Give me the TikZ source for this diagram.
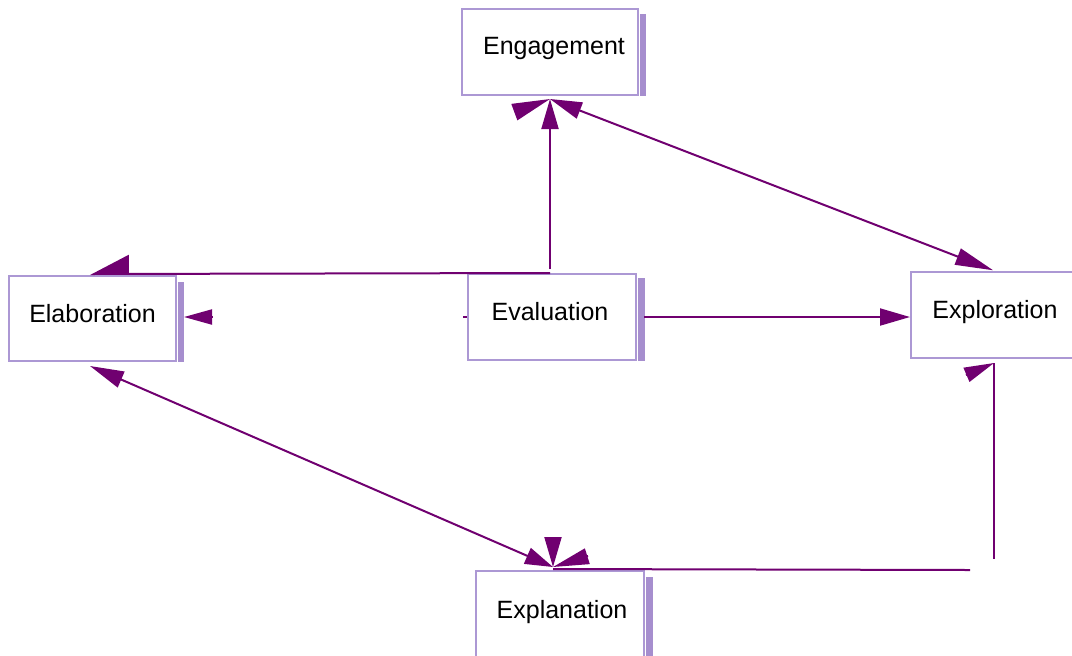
\documentclass[tikz,border=0pt]{standalone}
\usepackage{fontspec}
\setmainfont{Liberation Sans}
\usetikzlibrary{arrows.meta,calc}
\definecolor{arrc}{RGB}{112,0,112}
\definecolor{bordc}{RGB}{172,152,212}
\definecolor{shadc}{RGB}{166,142,206}
\begin{document}
\begin{tikzpicture}[x=0.5pt,y=-0.5pt,
  box/.style={draw=bordc, line width=1pt, fill=white, rectangle, inner sep=0pt},
  shadowbar/.style={fill=shadc, draw=none},
  lbl/.style={font=\fontsize{12.5pt}{15pt}\selectfont, inner sep=0pt, anchor=base, text=black},
  conn/.style={draw=arrc, line width=1pt},
  tipS/.style={-{Triangle[length=15pt,width=8.5pt]}},
  tipL/.style={-{Triangle[length=19pt,width=8.5pt]}},
  tipsBoth/.style={{Triangle[length=16pt,width=8.5pt]}-{Triangle[length=19pt,width=8.5pt]}},
  tipsBoth2/.style={{Triangle[length=17pt,width=8.5pt]}-{Triangle[length=14pt,width=8.5pt]}},
  halftip/.style={-{Triangle[length=18.5pt,width=19pt,right]}}
]
\useasboundingbox (0,0) rectangle (1072,655);
\clip (0,0) rectangle (1072,655);

% boxes
\node[box, minimum width=88pt, minimum height=43pt] (eng) at (550,52) {};
\node[box, minimum width=83.5pt, minimum height=42.5pt] (ela) at (92.5,318.5) {};
\node[box, minimum width=84pt, minimum height=43pt] (eva) at (552,317) {};
\node[box, minimum width=84pt, minimum height=43pt] (exr) at (995,315) {};
\node[box, minimum width=84pt, minimum height=43pt] (exn) at (560,614) {};

% shadows
\fill[shadowbar] ($(eng.north east)+(0.5,6)$) rectangle ($(eng.south east)+(7,0)$);
\fill[shadowbar] ($(ela.north east)+(0.5,7)$) rectangle ($(ela.south east)+(7,0)$);
\fill[shadowbar] ($(eva.north east)+(0.5,5)$) rectangle ($(eva.south east)+(8,0)$);
\fill[shadowbar] ($(exn.north east)+(0.5,7)$) rectangle ($(exn.south east)+(8,0)$);

% labels
\node[lbl] (engl) at (554,54) {Engagement};
\node[lbl] (elal) at (92.5,322) {Elaboration};
\node[lbl] (eval) at (550,320) {Evaluation};
\node[lbl] (exrl) at (995,318) {Exploration};
\node[lbl] (exnl) at (562,618) {Explanation};

% named free ends
\coordinate (engtip) at ($(eng.south)+(0,3)$);
\coordinate (exntip) at ($(exn.north)+(-7,-3)$);
\coordinate (elatipb) at ($(ela.south)+(-2.5,4)$);
\coordinate (elatop) at (90,274);
\coordinate (bl1) at (514.7,112);
\coordinate (bm1) at (553,538);
\coordinate (br1) at (588,556);
\coordinate (fb1) at (966,375);
\coordinate (hend) at (970,570);
\coordinate (vend) at (994,559);

% connectors
\draw[conn, tipS, shorten <=2pt] (eva.north -| eng.south) -- (engtip);
\draw[conn, tipL] (bl1) -- (engtip);
\draw[conn, tipsBoth, shorten >=1pt] (engtip) -- (exr.north);
\draw[conn, tipsBoth2] (elatipb) -- (exntip);
\draw[conn, tipS] (bm1) -- (exntip);
\draw[conn, {-Triangle[length=18pt,width=8pt]}] (br1) -- (exntip);
\draw[conn, tipS] ([xshift=3.5pt]eva.east) -- (eva.east -| exr.west);
\draw[conn, -{Triangle[length=14pt,width=7.5pt]}] ($(ela.east)+(35,-1.5)$) -- ($(ela.east)+(7,-1.5)$);
\draw[conn, halftip] ($(eva.north)+(-2,0)$) -- (elatop);
\draw[conn] ([xshift=-2pt]eva.west) -- (eva.west);
\draw[conn, -{Triangle[length=15pt,width=7.5pt]}] (fb1) -- ($(exr.south)+(-1,4)$);
\draw[conn] ($(exr.south)+(-1,4)$) -- (vend);
\draw[conn] ($(exn.north)+(-7,-1)$) -- (hend);
\end{tikzpicture}
\end{document}
